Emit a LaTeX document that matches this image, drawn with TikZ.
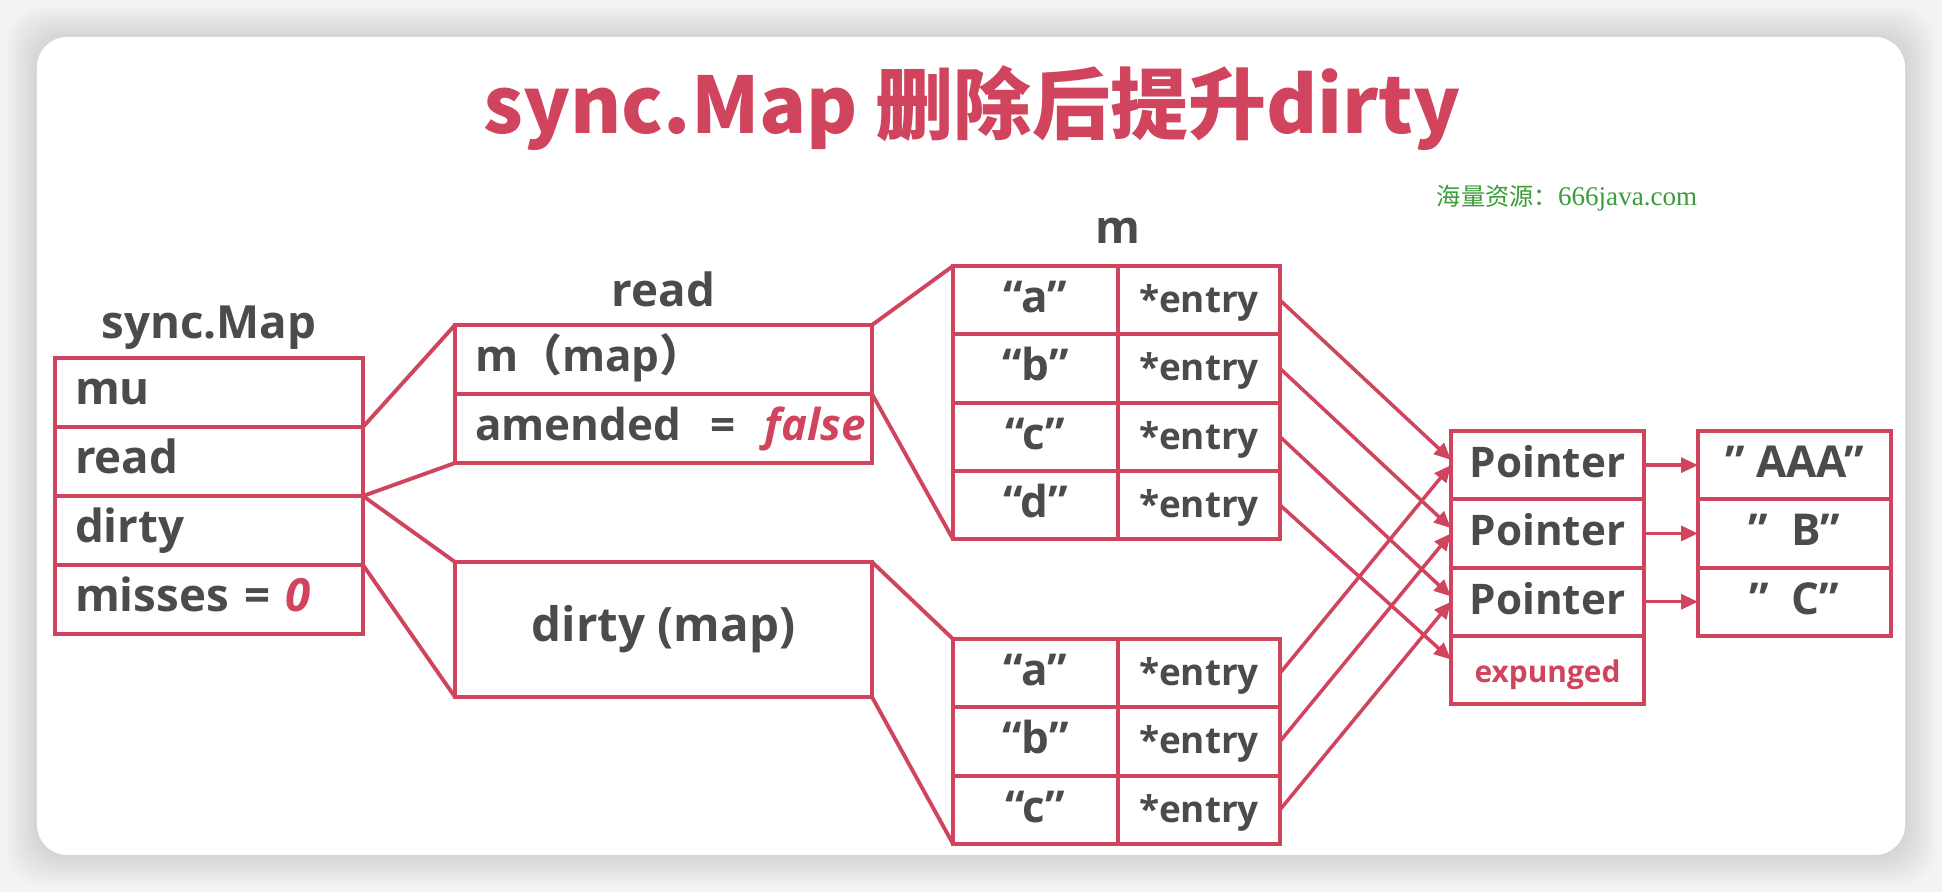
\documentclass[tikz,border=0pt]{standalone}
\usepackage{fontspec}
\setmainfont{Open Sans}
\newfontfamily\cjk{Noto Sans CJK SC}
\newfontfamily\wmserif{Liberation Serif}
\usetikzlibrary{positioning,arrows.meta}

\definecolor{mapred}{HTML}{D0445E}
\definecolor{txtgray}{HTML}{4B4B4B}
\definecolor{wmgreen}{HTML}{3A9D3A}
\definecolor{pagegray}{HTML}{F3F3F3}

\begin{document}
\begin{tikzpicture}[
    box/.style={draw=mapred, line width=1.1pt, outer sep=0pt, inner sep=0pt,
        fill=white, text=txtgray, font=\bfseries\fontsize{13}{15}\selectfont},
    field/.style={box, text width=#1, align=left, inner xsep=.2cm,
        minimum height=.69cm, text height=.85em, text depth=.15em},
    cellbox/.style={box, minimum width=#1, minimum height=.683cm,
        text height=.85em, text depth=.15em},
    heading/.style={text=txtgray, font=\bfseries\fontsize{13}{15}\selectfont, inner sep=0pt},
    link/.style={draw=mapred, line width=1.1pt},
    ptr/.style={draw=mapred, line width=1pt, -{Triangle[length=4.8pt,width=4.2pt]}},
]

    \useasboundingbox (0,0) rectangle (19.42,8.92);

    % card with soft shadow
    \fill[pagegray] (0,0) rectangle (19.42,8.92);
    \foreach \i in {1,...,10}
        \fill[black, opacity=.013, rounded corners=.35cm]
            (.37-\i*.03,.37-\i*.03) rectangle (19.05+\i*.03,8.55+\i*.03);
    \fill[white, rounded corners=.3cm] (.37,.37) rectangle (19.05,8.55);

    \node[text=mapred, inner sep=0pt, anchor=base,
        font=\cjk\bfseries\fontsize{22.2}{26}\selectfont] (maintitle) at (9.72,7.58)
        {sync.Map 删除后提升dirty};
    \node[text=wmgreen, inner sep=0pt] (watermark) at (15.67,6.94)
        {{\cjk\fontsize{6.9}{8}\selectfont 海量资源：}{\wmserif\fontsize{7.7}{9}\selectfont 666java.com}};

    % sync.Map
    \node[field=2.68cm, anchor=north west] (sm-mu) at (.55,5.34) {mu};
    \node[field=2.68cm, below=0pt of sm-mu] (sm-read) {read};
    \node[field=2.68cm, below=0pt of sm-read] (sm-dirty) {dirty};
    \node[field=2.68cm, below=0pt of sm-dirty] (sm-misses)
        {misses = {\color{mapred}\itshape 0}};
    \node[heading, above=.08cm of sm-mu] (sm-label) {sync.Map};

    % read
    \node[field=3.77cm, anchor=north west, font=\bfseries\fontsize{12.5}{15}\selectfont]
        (rd-m) at (4.55,5.67) {m{\cjk （}map{\cjk ）}};
    \node[field=3.77cm, below=0pt of rd-m, font=\bfseries\fontsize{12.5}{15}\selectfont]
        (rd-amend) {amended~~=~~{\color{mapred}\itshape false}};
    \node[heading, above=.17cm of rd-m] (rd-label) {read};

    % dirty
    \node[box, anchor=north west, minimum width=4.17cm, minimum height=1.35cm,
        font=\bfseries\fontsize{13.5}{16}\selectfont] (dt-map) at (4.55,3.30) {dirty (map)};

    % m
    \node[cellbox=1.65cm, anchor=north west, font=\bfseries\fontsize{12.5}{15}\selectfont]
        (m-ka) at (9.53,6.26) {“a”};
    \node[cellbox=1.65cm, below=0pt of m-ka, font=\bfseries\fontsize{12.5}{15}\selectfont] (m-kb) {“b”};
    \node[cellbox=1.65cm, below=0pt of m-kb, font=\bfseries\fontsize{12.5}{15}\selectfont] (m-kc) {“c”};
    \node[cellbox=1.65cm, below=0pt of m-kc, font=\bfseries\fontsize{12.5}{15}\selectfont] (m-kd) {“d”};
    \node[cellbox=1.62cm, right=0pt of m-ka, font=\bfseries\fontsize{10.5}{13}\selectfont] (m-ea) {*entry};
    \node[cellbox=1.62cm, right=0pt of m-kb, font=\bfseries\fontsize{10.5}{13}\selectfont] (m-eb) {*entry};
    \node[cellbox=1.62cm, right=0pt of m-kc, font=\bfseries\fontsize{10.5}{13}\selectfont] (m-ec) {*entry};
    \node[cellbox=1.62cm, right=0pt of m-kd, font=\bfseries\fontsize{10.5}{13}\selectfont] (m-ed) {*entry};
    \node[heading, above=.22cm of m-ka.north east] (m-label) {m};

    % dirty entries
    \node[cellbox=1.65cm, anchor=north west, font=\bfseries\fontsize{12.5}{15}\selectfont]
        (d-ka) at (9.53,2.53) {“a”};
    \node[cellbox=1.65cm, below=0pt of d-ka, font=\bfseries\fontsize{12.5}{15}\selectfont] (d-kb) {“b”};
    \node[cellbox=1.65cm, below=0pt of d-kb, font=\bfseries\fontsize{12.5}{15}\selectfont] (d-kc) {“c”};
    \node[cellbox=1.62cm, right=0pt of d-ka, font=\bfseries\fontsize{10.5}{13}\selectfont] (d-ea) {*entry};
    \node[cellbox=1.62cm, right=0pt of d-kb, font=\bfseries\fontsize{10.5}{13}\selectfont] (d-eb) {*entry};
    \node[cellbox=1.62cm, right=0pt of d-kc, font=\bfseries\fontsize{10.5}{13}\selectfont] (d-ec) {*entry};

    % pointers and values
    \node[cellbox=1.93cm, anchor=north west, font=\bfseries\fontsize{12}{15}\selectfont]
        (ptr-a) at (14.51,4.61) {Pointer};
    \node[cellbox=1.93cm, below=0pt of ptr-a, font=\bfseries\fontsize{12}{15}\selectfont] (ptr-b) {Pointer};
    \node[cellbox=1.93cm, below=0pt of ptr-b, font=\bfseries\fontsize{12}{15}\selectfont] (ptr-c) {Pointer};
    \node[cellbox=1.93cm, below=0pt of ptr-c, text=mapred, font=\bfseries\fontsize{8.5}{10}\selectfont]
        (ptr-x) {expunged};
    \node[cellbox=1.93cm, anchor=north west, font=\bfseries\fontsize{12.5}{15}\selectfont]
        (val-a) at (16.98,4.61) {” AAA”};
    \node[cellbox=1.93cm, below=0pt of val-a, font=\bfseries\fontsize{12.5}{15}\selectfont] (val-b) {”~~B”};
    \node[cellbox=1.93cm, below=0pt of val-b, font=\bfseries\fontsize{12.5}{15}\selectfont] (val-c) {”~~C”};

    % zoom lines
    \draw[link] (sm-read.north east) -- (rd-m.north west);
    \draw[link] (sm-read.south east) -- (rd-amend.south west);
    \draw[link] (sm-dirty.north east) -- (dt-map.north west);
    \draw[link] (sm-dirty.south east) -- (dt-map.south west);
    \draw[link] (rd-m.north east) -- (m-ka.north west);
    \draw[link] (rd-m.south east) -- (m-kd.south west);
    \draw[link] (dt-map.north east) -- (d-ka.north west);
    \draw[link] (dt-map.south east) -- (d-kc.south west);

    % arrows
    \draw[ptr] (m-ea.east) -- ([yshift=1.5pt]ptr-a.west);
    \draw[ptr] (m-eb.east) -- ([yshift=1.5pt]ptr-b.west);
    \draw[ptr] (m-ec.east) -- ([yshift=1.5pt]ptr-c.west);
    \draw[ptr] (m-ed.east) -- ([yshift=3pt]ptr-x.west);
    \draw[ptr] (d-ea.east) -- (ptr-a.west);
    \draw[ptr] (d-eb.east) -- (ptr-b.west);
    \draw[ptr] (d-ec.east) -- (ptr-c.west);
    \draw[ptr] (ptr-a.east) -- (val-a.west);
    \draw[ptr] (ptr-b.east) -- (val-b.west);
    \draw[ptr] (ptr-c.east) -- (val-c.west);

\end{tikzpicture}
\end{document}
